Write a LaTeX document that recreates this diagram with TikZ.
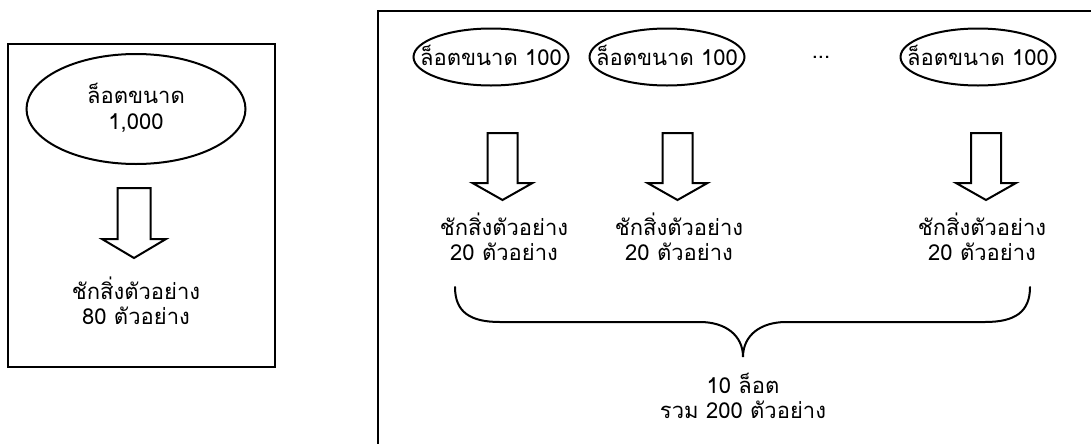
\documentclass[tikz,border=0pt]{standalone}
\usepackage{fontspec}
\newfontfamily\thaifont[Script=Thai]{Loma}
\usetikzlibrary{shapes.geometric}
\tikzset{
  frame/.style={line width=2pt},
  lotnode/.style={draw, ellipse, line width=1.5pt, inner sep=0pt},
  label/.style={align=center, inner sep=0pt, font=\thaifont\fontsize{16.5pt}{19pt}\selectfont},
  blockarrow/.style={draw, line width=1.5pt, line join=miter, fill=white},
  bracestyle/.style={line width=1.5pt, line cap=round},
}
\newcommand\blkarrow[7]{% cx, top, headtop, tip, halfshaft, halfhead, name
  \draw[blockarrow] (#1-#5,#2) -- (#1+#5,#2) -- (#1+#5,#3) -- (#1+#6,#3)
     -- (#1,#4) coordinate (#7) -- (#1-#6,#3) -- (#1-#5,#3) -- cycle;}
\begin{document}
\begin{tikzpicture}[x=0.75pt,y=-0.75pt]
\useasboundingbox (0,0) rectangle (1091,443);
\clip (0,0) rectangle (1091,443);
% left panel
\draw[frame] (8,44) rectangle (275,367);
\node[lotnode, minimum width=219*0.75pt, minimum height=110*0.75pt] (L) at (136,109) {};
\node[label] (Lt) at (136,108) {ล็อตขนาด\\1,000};
\blkarrow{134}{188}{239}{258}{16.5}{32}{Ltip}
\node[label] (Ls) at (136,301) {ชักสิ่งตัวอย่าง\\80 ตัวอย่าง};
% right panel
\draw[frame] (378,460) -- (378,11) -- (1110,11);
\foreach \i/\cx/\ax/\tx in {1/491/502.5/504, 2/667/677.5/679, 3/978/986/982}{
  \node[lotnode, minimum width=155*0.75pt, minimum height=57*0.75pt] (E\i) at (\cx,57) {};
  \node[label] (Et\i) at (\cx,55) {ล็อตขนาด 100};
  \blkarrow{\ax}{133}{183}{200}{15}{30}{tip\i}
  \node[label] (S\i) at (\tx,237) {ชักสิ่งตัวอย่าง\\20 ตัวอย่าง};
}
\node[label] (dots) at (821,57) {...};
% brace
\coordinate (bl) at (455,287);
\coordinate (br) at (1030,287);
\coordinate (bt) at (743,357);
\draw[bracestyle] (bl) .. controls (455,312) and (470,322) .. (500,322)
  -- (700,322) .. controls (725,322) and (743,335) .. (bt)
  .. controls (743,335) and (761,322) .. (786,322)
  -- (985,322) .. controls (1015,322) and (1030,312) .. (br);
\node[label] (tot) at (743,396) {10 ล็อต\\รวม 200 ตัวอย่าง};
\end{tikzpicture}
\end{document}
